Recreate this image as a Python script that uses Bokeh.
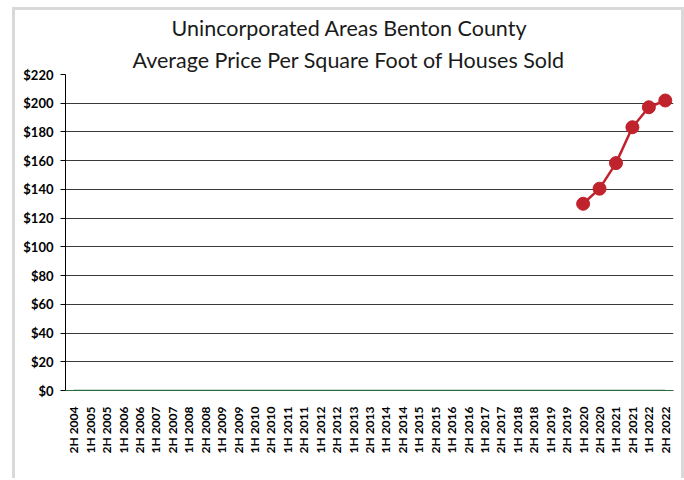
from bokeh.plotting import figure
from bokeh.models import FactorRange, Range1d, FixedTicker, NumeralTickFormatter, Title
from bokeh.embed import file_html
from bokeh.resources import INLINE

# ---- data ----
periods = ["2H 2004"]
for yr in range(2005, 2023):
    periods += [f"1H {yr}", f"2H {yr}"]

zero_series = [0] * len(periods)

price_periods = ["1H 2020", "2H 2020", "1H 2021", "2H 2021", "1H 2022", "2H 2022"]
price_values = [130, 140.5, 158.3, 183.3, 197.2, 201.9]

y_ticks = [0, 20, 40, 60, 80, 100, 120, 140, 160, 180, 200, 220]

title_lines = ["Unincorporated Areas Benton County",
               "Average Price Per Square Foot of Houses Sold"]

FONT = "Lato"

p = figure(x_range=FactorRange(*periods, range_padding=0),
           y_range=Range1d(0, 220),
           frame_width=608, frame_height=316,
           output_backend="svg", toolbar_location=None,
           min_border_left=50, min_border_right=8,
           min_border_top=10, min_border_bottom=88)

# titles: first added sits closest to the plot
t2 = Title(text=title_lines[1], align="left", text_font=FONT,
           text_font_size="21.5px", text_font_style="normal", text_color="#1a1a1a",
           offset=67, standoff=4)
t1 = Title(text=title_lines[0], align="left", text_font=FONT,
           text_font_size="21.5px", text_font_style="normal", text_color="#1a1a1a",
           offset=106, standoff=4)
p.add_layout(t2, "above")
p.add_layout(t1, "above")

p.margin = (7, 0, 0, 12)
p.styles = {"border-top": "3px solid #d9d9d9", "border-left": "3px solid #d9d9d9",
            "border-right": "3px solid #d9d9d9"}

p.background_fill_color = "white"
p.border_fill_color = "white"
p.outline_line_color = None

# grid
p.xgrid.grid_line_color = None
p.ygrid.ticker = FixedTicker(ticks=y_ticks)
p.ygrid.grid_line_color = "#3a3a3a"
p.ygrid.grid_line_width = 1

# y axis
p.yaxis.ticker = FixedTicker(ticks=y_ticks)
p.yaxis.formatter = NumeralTickFormatter(format="$0")
p.yaxis.major_label_text_font = FONT
p.yaxis.major_label_text_font_style = "bold"
p.yaxis.major_label_text_font_size = "13px"
p.yaxis.major_label_text_color = "black"
p.yaxis.axis_line_color = "black"
p.yaxis.major_tick_line_color = "black"
p.yaxis.major_tick_out = 5
p.yaxis.major_tick_in = 0
p.yaxis.minor_tick_line_color = None
p.yaxis.major_label_standoff = 7

# x axis
p.xaxis.major_label_orientation = 1.5707963
p.xaxis.major_label_text_font = FONT
p.xaxis.major_label_text_font_style = "bold"
p.xaxis.major_label_text_font_size = "12px"
p.xaxis.major_label_text_color = "black"
p.xaxis.axis_line_color = "#2e6b3e"
p.xaxis.major_tick_line_color = None
p.xaxis.minor_tick_line_color = None
p.xaxis.major_label_standoff = 10

# series
p.line(periods, zero_series, line_color="#2e6b3e", line_width=1.5)
p.line(price_periods, price_values, line_color="#c0232c", line_width=2.5)
p.scatter(price_periods, price_values, size=13, fill_color="#c0232c",
          line_color="#c0232c")

open("out.html", "w").write(file_html(p, INLINE))
